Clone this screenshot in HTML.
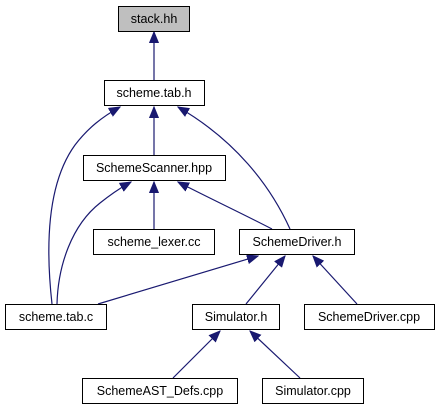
<!DOCTYPE html>
<html><head><style>
body{margin:0;background:#fff;}
svg{display:block;}
text{font-family:"Liberation Sans",Arial,sans-serif;font-size:12.5px;text-anchor:middle;fill:#000;}
rect{stroke:#000;stroke-width:1;fill:#fff;}
path{fill:none;stroke:#191970;stroke-width:1.2;}
</style></head><body>
<svg width="440" height="411" viewBox="0 0 440 411">
<defs>
<marker id="a" markerUnits="userSpaceOnUse" markerWidth="12" markerHeight="10" refX="11" refY="5" orient="auto">
<polygon points="0,0.5 11,5 0,9.5" fill="#191970" stroke="#191970"/>
</marker>
</defs>
<path d="M154,80 L154,32" marker-end="url(#a)"/>
<path d="M154,155 L154,107" marker-end="url(#a)"/>
<path d="M154,229 L154,182" marker-end="url(#a)"/>
<path d="M52,304 C46,250 46,185 75,145 C88,128 102,117 120,107" marker-end="url(#a)"/>
<path d="M57,304 C58,265 72,225 100,203 C110,195 120,188 131,182" marker-end="url(#a)"/>
<path d="M272,229 C245,215 205,196 178,182" marker-end="url(#a)"/>
<path d="M290,229 C270,185 235,140 178,107" marker-end="url(#a)"/>
<path d="M98,304 L258,256" marker-end="url(#a)"/>
<path d="M246,304 L285,256" marker-end="url(#a)"/>
<path d="M357,304 L313,256" marker-end="url(#a)"/>
<path d="M173,378 L220,331" marker-end="url(#a)"/>
<path d="M300,378 L250,331" marker-end="url(#a)"/>
<rect x="118.5" y="6.5" width="71" height="25" style="fill:#bfbfbf"/>
<text x="154" y="23">stack.hh</text>
<rect x="104.5" y="80.5" width="100" height="25"/>
<text x="154" y="97">scheme.tab.h</text>
<rect x="83.5" y="155.5" width="142" height="25"/>
<text x="154" y="172">SchemeScanner.hpp</text>
<rect x="93.5" y="229.5" width="121" height="25"/>
<text x="154" y="246">scheme_lexer.cc</text>
<rect x="239.5" y="229.5" width="115" height="25"/>
<text x="297" y="246">SchemeDriver.h</text>
<rect x="5.5" y="304.5" width="101" height="25"/>
<text x="56" y="321">scheme.tab.c</text>
<rect x="192.5" y="304.5" width="87" height="25"/>
<text x="236" y="321">Simulator.h</text>
<rect x="304.5" y="304.5" width="130" height="25"/>
<text x="369" y="321">SchemeDriver.cpp</text>
<rect x="82.5" y="378.5" width="155" height="25"/>
<text x="160" y="395">SchemeAST_Defs.cpp</text>
<rect x="262.5" y="378.5" width="101" height="25"/>
<text x="313" y="395">Simulator.cpp</text>
</svg>
</body></html>
